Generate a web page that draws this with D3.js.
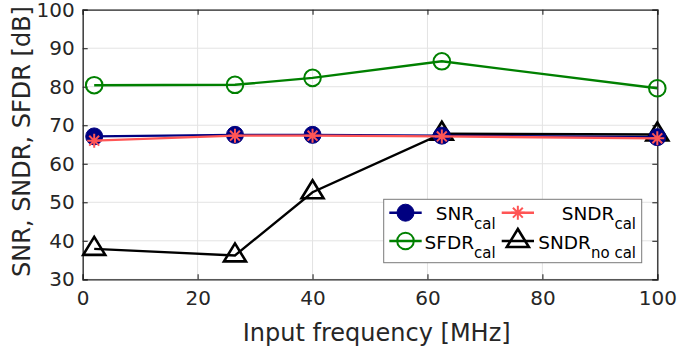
<!DOCTYPE html>
<html>
<head>
<meta charset="utf-8">
<script src="https://cdn.jsdelivr.net/npm/d3@7"></script>
<style>
  html, body { margin: 0; padding: 0; background: #fff; }
  svg { display: block; font-family: "DejaVu Sans", sans-serif; }
</style>
</head>
<body>
<svg id="chart" width="678" height="351"></svg>
<script>
// ---- data ----
const freqs = [2, 26.5, 40, 62.5, 100];
const snrCal = [67.1, 67.5, 67.5, 67.3, 66.9];
const sndrCal = [66.0, 67.3, 67.3, 67.1, 66.6];
const sfdrCal = [80.4, 80.5, 82.3, 86.6, 79.6];
const sndrNoCal = [37.9, 36.2, 52.6, 67.8, 67.6];
const xTicks = [0, 20, 40, 60, 80, 100];
const yTicks = [30, 40, 50, 60, 70, 80, 90, 100];
const xLabel = "Input frequency [MHz]";
const yLabel = "SNR, SNDR, SFDR [dB]";

const svg = d3.select("#chart");
const L = 82.7, R = 657.3, T = 9.7, B = 279.3;
const x = d3.scaleLinear().domain([0, 100]).range([L, R]);
const y = d3.scaleLinear().domain([30, 100]).range([B, T]);
const textCol = "#262626";

// grid
const g = svg.append("g");
g.selectAll(".gx").data(xTicks).enter().append("line")
  .attr("x1", d => x(d)).attr("x2", d => x(d)).attr("y1", T).attr("y2", B)
  .attr("stroke", "#e3e3e3").attr("stroke-width", 1);
g.selectAll(".gy").data(yTicks).enter().append("line")
  .attr("y1", d => y(d)).attr("y2", d => y(d)).attr("x1", L).attr("x2", R)
  .attr("stroke", "#e3e3e3").attr("stroke-width", 1);

// axes (ticks inward)
const axB = d3.axisBottom(x).tickValues(xTicks).tickSize(-5).tickPadding(12).tickFormat(d3.format("d"));
const axT = d3.axisTop(x).tickValues(xTicks).tickSize(-5).tickFormat("");
const axL = d3.axisLeft(y).tickValues(yTicks).tickSize(-5).tickPadding(8).tickFormat(d3.format("d"));
const axR = d3.axisRight(y).tickValues(yTicks).tickSize(-5).tickFormat("");
function styleAxis(sel) {
  sel.selectAll("path").attr("stroke", textCol).attr("stroke-width", 1.3);
  sel.selectAll("line").attr("stroke", textCol).attr("stroke-width", 1.1);
  sel.selectAll("text").attr("fill", textCol).style("font-size", "20px").style("font-family", "DejaVu Sans");
}
svg.append("g").attr("transform", `translate(0,${B})`).call(axB).call(styleAxis);
svg.append("g").attr("transform", `translate(0,${T})`).call(axT).call(styleAxis);
svg.append("g").attr("transform", `translate(${L},0)`).call(axL).call(styleAxis);
svg.append("g").attr("transform", `translate(${R},0)`).call(axR).call(styleAxis);

// labels
svg.append("text").attr("x", 376.7).attr("y", 341).attr("text-anchor", "middle")
  .attr("fill", textCol).style("font-size", "24px").text(xLabel);
svg.append("text").attr("transform", `translate(30,${(T + B) / 2 - 3}) rotate(-90)`).attr("text-anchor", "middle")
  .attr("fill", textCol).style("font-size", "24px").text(yLabel);

// series
const line = d3.line().x(d => x(d[0])).y(d => y(d[1]));
function pts(vals) { return freqs.map((f, i) => [f, vals[i]]); }

const series = [
  { vals: sfdrCal, color: "#008000", marker: "ocircle" },
  { vals: sndrNoCal, color: "#000000", marker: "triangle" },
  { vals: snrCal, color: "#000080", marker: "fcircle" },
  { vals: sndrCal, color: "#ff5555", marker: "star" }
];

function drawMarker(sel, type, color, cx, cy) {
  if (type === "ocircle") {
    sel.append("circle").attr("cx", cx).attr("cy", cy).attr("r", 8.3)
      .attr("fill", "none").attr("stroke", color).attr("stroke-width", 2);
  } else if (type === "fcircle") {
    sel.append("circle").attr("cx", cx).attr("cy", cy).attr("r", 8.5)
      .attr("fill", color).attr("stroke", color).attr("stroke-width", 1);
  } else if (type === "triangle") {
    sel.append("path").attr("d", `M${cx},${cy - 12} L${cx + 11},${cy + 6} L${cx - 11},${cy + 6} Z`)
      .attr("fill", "none").attr("stroke", color).attr("stroke-width", 2.6).attr("stroke-linejoin", "miter");
  } else if (type === "star") {
    const r = 7;
    let d = "";
    [0, 45, 90, 135].forEach(a => {
      const rad = a * Math.PI / 180;
      d += `M${cx - r * Math.cos(rad)},${cy - r * Math.sin(rad)} L${cx + r * Math.cos(rad)},${cy + r * Math.sin(rad)} `;
    });
    sel.append("path").attr("d", d).attr("stroke", color).attr("stroke-width", 2).attr("fill", "none");
  }
}

series.forEach(s => {
  const p = pts(s.vals);
  svg.append("path").datum(p).attr("d", line).attr("fill", "none")
    .attr("stroke", s.color).attr("stroke-width", 2.4);
  const mg = svg.append("g");
  p.forEach(d => drawMarker(mg, s.marker, s.color, x(d[0]), y(d[1])));
});

// legend
const lg = svg.append("g");
lg.append("rect").attr("x", 383.7).attr("y", 199.3).attr("width", 258).attr("height", 63.4)
  .attr("fill", "#fff").attr("stroke", "#7a7a7a").attr("stroke-width", 1);
const legItems = [
  { main: "SNR", sub: "cal", color: "#000080", marker: "fcircle", lx: 389.3, rx: 421.7, ty: 220, end: 495.7, my: 212.7 },
  { main: "SNDR", sub: "cal", color: "#ff5555", marker: "star", lx: 501.7, rx: 534, ty: 220, end: 636, my: 212.7 },
  { main: "SFDR", sub: "cal", color: "#008000", marker: "ocircle", lx: 389.3, rx: 421.7, ty: 249, end: 495.7, my: 241 },
  { main: "SNDR", sub: "no cal", color: "#000000", marker: "triangle", lx: 501.7, rx: 534, ty: 249, end: 636, my: 241 }
];
legItems.forEach(it => {
  lg.append("line").attr("x1", it.lx).attr("x2", it.rx).attr("y1", it.my).attr("y2", it.my)
    .attr("stroke", it.color).attr("stroke-width", 2.4);
  drawMarker(lg, it.marker, it.color, (it.lx + it.rx) / 2, it.my);
  const t = lg.append("text").attr("x", it.end).attr("y", it.ty).attr("text-anchor", "end").attr("fill", "#000");
  t.append("tspan").style("font-size", "18.5px").text(it.main);
  t.append("tspan").attr("dy", 9).style("font-size", "15px").text(it.sub);
});
</script>
</body>
</html>
